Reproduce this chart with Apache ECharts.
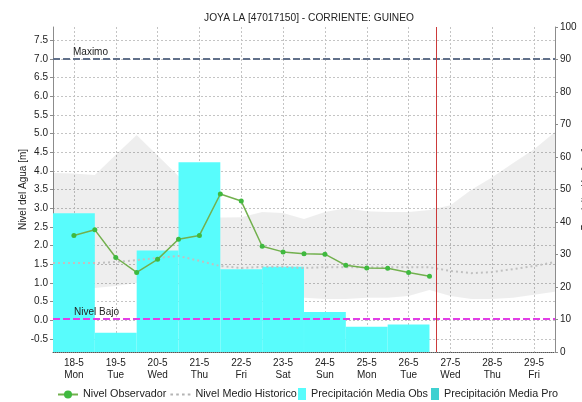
<!DOCTYPE html>
<html>
<head>
<meta charset="utf-8">
<script src="https://cdn.jsdelivr.net/npm/echarts@6/dist/echarts.min.js"></script>
<style>
  html, body { margin: 0; padding: 0; background: #ffffff; }
  #chart { width: 582px; height: 402px; }
</style>
</head>
<body>
<div id="chart"></div>
<script>
// Day labels along the time axis (day index 0 = 18-5)
const dayLabels = ['18-5\nMon', '19-5\nTue', '20-5\nWed', '21-5\nThu', '22-5\nFri', '23-5\nSat',
                   '24-5\nSun', '25-5\nMon', '26-5\nTue', '27-5\nWed', '28-5\nThu', '29-5\nFri'];
const dayTicks = [0, 1, 2, 3, 4, 5, 6, 7, 8, 9, 10, 11];

// Water level ticks [m]
const levelTicks = [-0.5, 0, 0.5, 1, 1.5, 2, 2.5, 3, 3.5, 4, 4.5, 5, 5.5, 6, 6.5, 7, 7.5];

// Observed water level, every 12 h from 18-5 00:00
const observedTimes = [0, 0.5, 1, 1.5, 2, 2.5, 3, 3.5, 4, 4.5, 5, 5.5, 6, 6.5, 7, 7.5, 8, 8.5];
const observedLevel = [2.27, 2.42, 1.68, 1.28, 1.63, 2.17, 2.27, 3.38, 3.19, 1.98,
                       1.83, 1.78, 1.77, 1.47, 1.40, 1.39, 1.28, 1.18];

// Historical statistics, every 12 h
const histTimes = [-0.5, 0, 0.5, 1, 1.5, 2, 2.5, 3, 3.5, 4, 4.5, 5, 5.5, 6, 6.5, 7, 7.5, 8, 8.5,
                   9, 9.5, 10, 10.5, 11, 11.5];
const histMean  = [1.53, 1.53, 1.53, 1.56, 1.61, 1.67, 1.72, 1.59, 1.45, 1.40, 1.43, 1.43, 1.40,
                   1.42, 1.42, 1.42, 1.42, 1.42, 1.42, 1.32, 1.26, 1.29, 1.37, 1.45, 1.56];
const histUpper = [3.94, 3.93, 3.89, 4.43, 4.96, 4.41, 3.86, 3.31, 2.75, 2.76, 2.90, 2.87, 2.71,
                   2.90, 3.00, 2.92, 2.90, 2.90, 2.95, 3.08, 3.49, 3.83, 4.21, 4.58, 5.04];
const histLower = [0.86, 0.86, 0.86, 0.92, 1.00, 1.00, 0.94, 0.86, 0.78, 0.76, 0.70, 0.65, 0.60,
                   0.57, 0.57, 0.60, 0.60, 0.65, 0.81, 0.65, 0.57, 0.57, 0.60, 0.68, 0.76];

// Daily mean precipitation [mm]
const rainDays = [0, 1, 2, 3, 4, 5, 6, 7, 8];
const rainObs  = [42.7, 5.9, 31.2, 58.4, 25.5, 26.2, 12.3, 7.8, 8.5];
const rainProDays = [];
const rainPro  = [];

// Reference levels and current time
const levelMax = 7.0;
const levelLow = 0.05;
const nowTime = 8.66;

const font = 'Liberation Sans, Arial, sans-serif';
const textColor = '#222';

const chart = echarts.init(document.getElementById('chart'), null, { renderer: 'canvas' });

const pairs = (xs, ys) => xs.map((x, i) => [x, ys[i]]);

// Historical range drawn as one polygon: upper edge forward, lower edge back
function renderHistBand(params, api) {
  if (params.dataIndex !== 0) return null;
  const pts = [];
  for (let i = 0; i < histTimes.length; i++) pts.push(api.coord([histTimes[i], histUpper[i]]));
  for (let i = histTimes.length - 1; i >= 0; i--) pts.push(api.coord([histTimes[i], histLower[i]]));
  return {
    type: 'polygon',
    shape: { points: pts },
    style: { fill: 'rgba(0,0,0,0.068)' },
    silent: true
  };
}

const legendText = { fontSize: 10.8, color: textColor, fontFamily: font };
const dottedIcon = 'path://M0,4h2.5v2h-2.5zM5.5,4h2.5v2h-2.5zM11,4h2.5v2h-2.5zM16.5,4h2.5v2h-2.5z';

const option = {
  animation: false,
  textStyle: { fontFamily: font },
  title: {
    text: 'JOYA LA [47017150] - CORRIENTE: GUINEO',
    left: 304, top: 8, textAlign: 'center',
    textStyle: { fontSize: 10.2, fontWeight: 'normal', color: textColor, fontFamily: font }
  },
  grid: { left: 53, right: 27, top: 27, bottom: 50, containLabel: false, outerBoundsMode: 'none' },
  legend: [
    {
      bottom: -3, left: 52, itemGap: 4, itemWidth: 20, itemHeight: 10,
      textStyle: legendText,
      data: [
        { name: 'Nivel Observador' },
        { name: 'Nivel Medio Historico', icon: dottedIcon }
      ]
    },
    {
      bottom: -3, left: 293, itemGap: 3, itemWidth: 8, itemHeight: 12,
      textStyle: legendText,
      data: [
        { name: 'Precipitación Media Obs', icon: 'rect' },
        { name: 'Precipitación Media Pro', icon: 'rect' }
      ]
    }
  ],
  xAxis: {
    type: 'value', min: -0.5, max: 11.5,
    axisLine: { show: true, onZero: false, lineStyle: { color: '#555', type: 'dotted', width: 1 } },
    axisTick: { show: false, customValues: dayTicks },
    axisLabel: {
      customValues: dayTicks, margin: 5, fontSize: 10, color: textColor, lineHeight: 12,
      fontFamily: font,
      formatter: v => dayLabels[Math.round(v)]
    },
    splitLine: { show: true, lineStyle: { color: '#c4c4c4', type: [2, 2], width: 1 } }
  },
  yAxis: [
    {
      type: 'value', min: -0.85, max: 7.85, position: 'left',
      name: 'Nivel del Agua [m]', nameLocation: 'middle', nameGap: 25, nameMoveOverlap: false,
      nameTextStyle: { fontSize: 10, color: textColor, fontFamily: font },
      axisLine: { show: true, onZero: false, lineStyle: { color: '#8c8c8c', width: 1 } },
      axisTick: { show: true, customValues: levelTicks, length: 3, lineStyle: { color: '#8c8c8c' } },
      axisLabel: {
        customValues: levelTicks, margin: 5, fontSize: 10, color: textColor, fontFamily: font,
        formatter: v => v.toFixed(1)
      },
      splitLine: { show: true, lineStyle: { color: '#c4c4c4', type: [2, 2], width: 1 } }
    },
    {
      type: 'value', min: 0, max: 100, interval: 10, position: 'right',
      name: 'Precipitación [mm]', nameLocation: 'middle', nameGap: 26, nameMoveOverlap: false,
      nameTextStyle: { fontSize: 10, color: textColor, fontFamily: font },
      axisLine: { show: true, onZero: false, lineStyle: { color: '#8c8c8c', width: 1 } },
      axisTick: { show: true, length: 3, lineStyle: { color: '#8c8c8c' } },
      axisLabel: { margin: 5, fontSize: 10, color: textColor, fontFamily: font },
      splitLine: { show: false }
    }
  ],
  series: [
    {
      name: 'Precipitación Media Obs', type: 'bar', yAxisIndex: 1,
      barWidth: 41.8, barGap: '-100%',
      itemStyle: { color: '#58fcfc' },
      data: pairs(rainDays, rainObs)
    },
    {
      name: 'Precipitación Media Pro', type: 'bar', yAxisIndex: 1,
      barWidth: 41.8, barGap: '-100%',
      itemStyle: { color: '#3fd0d0' },
      data: pairs(rainProDays, rainPro)
    },
    {
      name: 'hist-range', type: 'custom', yAxisIndex: 0, silent: true,
      renderItem: renderHistBand,
      encode: { x: 0, y: 1 },
      data: pairs(histTimes, histUpper)
    },
    {
      name: 'Nivel Medio Historico', type: 'line', yAxisIndex: 0,
      symbol: 'none',
      itemStyle: { color: '#b4b4b4' },
      lineStyle: { color: '#c0c0c0', width: 2, type: [2, 3] },
      data: pairs(histTimes, histMean)
    },
    {
      name: 'Nivel Observador', type: 'line', yAxisIndex: 0, z: 5,
      symbol: 'circle', symbolSize: 5,
      itemStyle: { color: '#3fb93f' },
      lineStyle: { color: '#72b04e', width: 1.5 },
      data: pairs(observedTimes, observedLevel),
      markLine: {
        silent: true, symbol: 'none', animation: false,
        data: [
          {
            yAxis: levelMax,
            lineStyle: { color: '#61708a', type: [7, 3], width: 2 },
            label: { show: true, formatter: 'Maximo', position: 'insideStartTop',
                     distance: [20, 2], fontSize: 10, color: textColor, fontFamily: font }
          },
          {
            yAxis: levelLow,
            lineStyle: { color: '#e23ee6', type: [7, 3], width: 2 },
            label: { show: true, formatter: 'Nivel Bajo', position: 'insideStartTop',
                     distance: [21, 1], fontSize: 10, color: textColor, fontFamily: font }
          },
          {
            xAxis: nowTime,
            lineStyle: { color: '#cc3a3a', type: 'solid', width: 1 },
            label: { show: false }
          }
        ]
      }
    }
  ]
};

chart.setOption(option);
</script>
</body>
</html>
